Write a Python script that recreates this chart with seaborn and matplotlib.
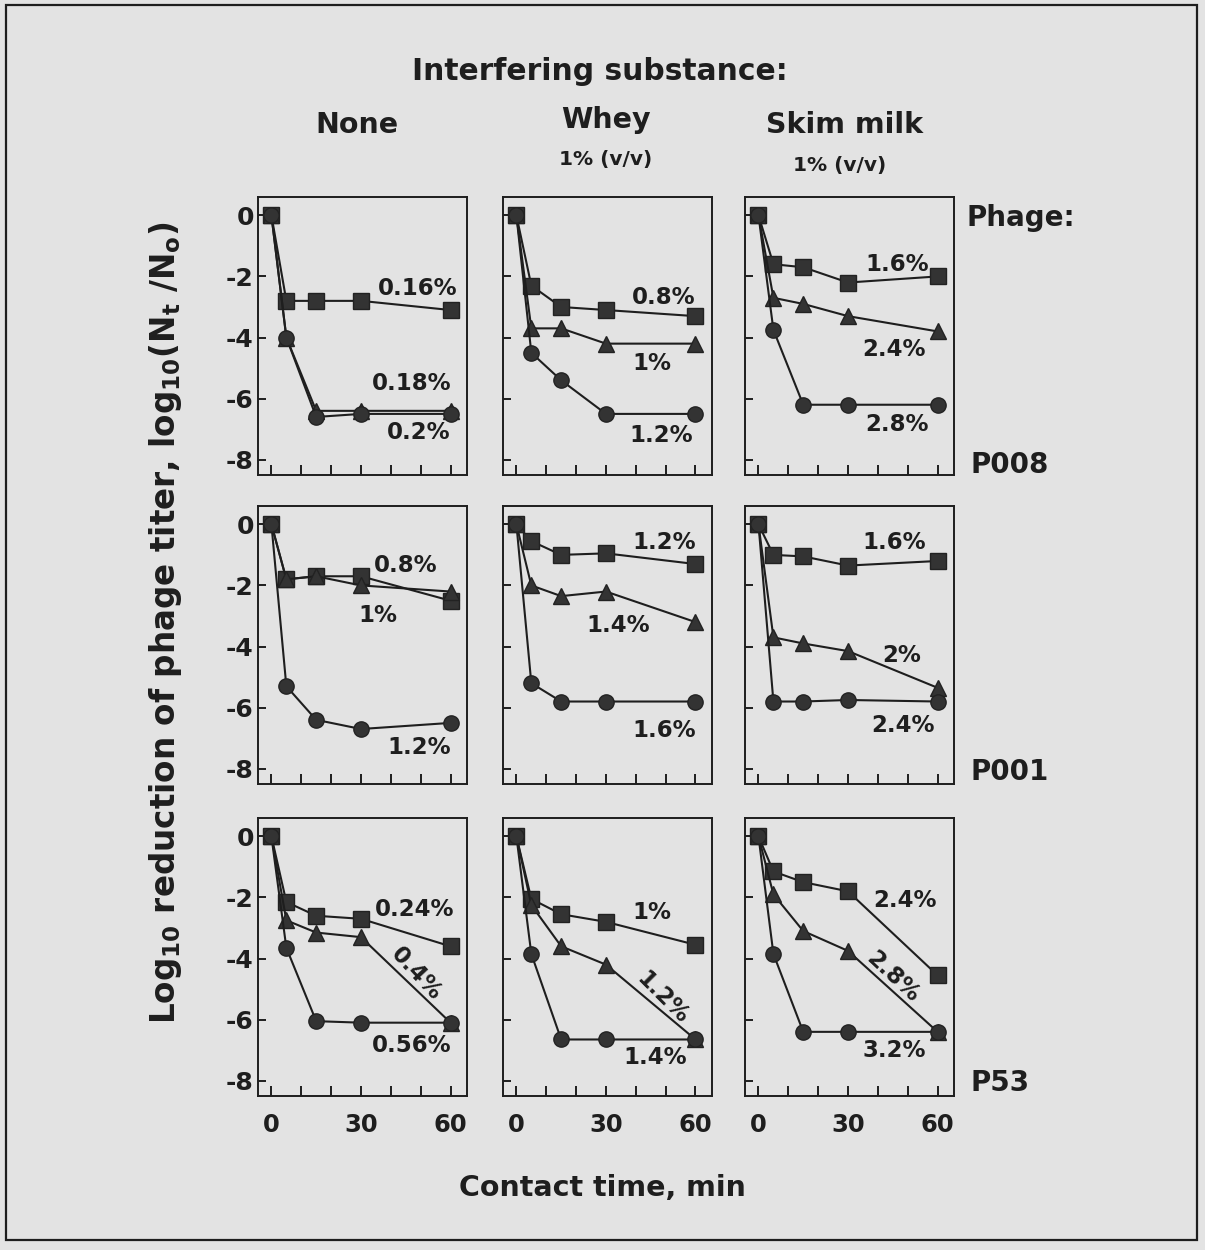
import matplotlib
matplotlib.use("Agg")
import matplotlib.pyplot as plt
import seaborn as sns
from matplotlib.patches import Rectangle

# contact time points (min)
times = [0, 5, 15, 30, 60]

substances = ["None", "Whey", "Skim milk"]
phages = ["P008", "P001", "P53"]

# log10 reduction values, per phage -> per substance -> [square, triangle, circle]
p008_none = [[0, -2.8, -2.8, -2.8, -3.1], [0, -4.0, -6.4, -6.4, -6.4], [0, -4.0, -6.6, -6.5, -6.5]]
p008_whey = [[0, -2.3, -3.0, -3.1, -3.3], [0, -3.7, -3.7, -4.2, -4.2], [0, -4.5, -5.4, -6.5, -6.5]]
p008_skim = [[0, -1.6, -1.7, -2.2, -2.0], [0, -2.7, -2.9, -3.3, -3.8], [0, -3.75, -6.2, -6.2, -6.2]]

p001_none = [[0, -1.8, -1.7, -1.7, -2.5], [0, -1.8, -1.7, -2.0, -2.2], [0, -5.3, -6.4, -6.7, -6.5]]
p001_whey = [[0, -0.55, -1.0, -0.95, -1.3], [0, -2.0, -2.35, -2.2, -3.2], [0, -5.2, -5.8, -5.8, -5.8]]
p001_skim = [[0, -1.0, -1.05, -1.35, -1.2], [0, -3.7, -3.9, -4.15, -5.35], [0, -5.8, -5.8, -5.75, -5.8]]

p53_none = [[0, -2.15, -2.6, -2.7, -3.6], [0, -2.75, -3.15, -3.3, -6.1], [0, -3.65, -6.05, -6.1, -6.1]]
p53_whey = [[0, -2.05, -2.55, -2.8, -3.55], [0, -2.25, -3.6, -4.2, -6.65], [0, -3.85, -6.65, -6.65, -6.65]]
p53_skim = [[0, -1.15, -1.5, -1.8, -4.55], [0, -1.9, -3.1, -3.75, -6.4], [0, -3.85, -6.4, -6.4, -6.4]]

# disinfectant concentration labels for each series
conc_labels = [
    [["0.16%", "0.18%", "0.2%"], ["0.8%", "1%", "1.2%"], ["1.6%", "2.4%", "2.8%"]],
    [["0.8%", "1%", "1.2%"], ["1.2%", "1.4%", "1.6%"], ["1.6%", "2%", "2.4%"]],
    [["0.24%", "0.4%", "0.56%"], ["1%", "1.2%", "1.4%"], ["2.4%", "2.8%", "3.2%"]],
]

data = [
    [p008_none, p008_whey, p008_skim],
    [p001_none, p001_whey, p001_skim],
    [p53_none, p53_whey, p53_skim],
]

# label placement (x, y, rotation) in data coordinates
label_pos = [
    [[(49, -2.4, 0), (47, -5.5, 0), (49.5, -7.1, 0)],
     [(49.5, -2.7, 0), (45.5, -4.85, 0), (48.5, -7.2, 0)],
     [(46.5, -1.6, 0), (45.5, -4.4, 0), (46.5, -6.85, 0)]],
    [[(45, -1.35, 0), (35.5, -3.0, 0), (49.5, -7.3, 0)],
     [(49.5, -0.6, 0), (34, -3.3, 0), (49.5, -6.75, 0)],
     [(45.5, -0.6, 0), (48, -4.3, 0), (48.5, -6.6, 0)]],
    [[(48, -2.4, 0), (48.5, -4.5, -47), (47, -6.85, 0)],
     [(45.5, -2.5, 0), (49, -5.3, -45), (46.5, -7.25, 0)],
     [(49, -2.1, 0), (45, -4.6, -43), (45.5, -7.0, 0)]],
]

markers = ["s", "^", "o"]
bg = "#e3e3e3"
ink = "#1e1e1e"

sns.set_theme(style="ticks")
plt.rcParams["font.family"] = ["DejaVu Sans"]
plt.rcParams["font.weight"] = "bold"
plt.rcParams["mathtext.fontset"] = "custom"
plt.rcParams["mathtext.rm"] = "DejaVu Sans:bold"
plt.rcParams["mathtext.bf"] = "DejaVu Sans:bold"
plt.rcParams["mathtext.it"] = "DejaVu Sans:bold"

fig = plt.figure(figsize=(12.05, 12.5), dpi=100, facecolor=bg)

col_left = [0.2141, 0.4174, 0.6183]
row_bottom = [0.620, 0.3728, 0.1232]
width, height = 0.1734, 0.2224

for r in range(3):
    for c in range(3):
        ax = fig.add_axes([col_left[c], row_bottom[r], width, height])
        ax.set_facecolor(bg)
        for k in range(3):
            sns.lineplot(x=times, y=data[r][c][k], ax=ax, color=ink, linewidth=1.5,
                         marker=markers[k], markersize=12 if k == 1 else 11,
                         markerfacecolor="#333333", markeredgecolor="#222222",
                         markeredgewidth=1.0, legend=False)
            lx, ly, rot = label_pos[r][c][k]
            ax.text(lx, ly, conc_labels[r][c][k], ha="center", va="center",
                    rotation=rot, fontsize=16.5, fontweight="bold", color=ink)
        ax.set_xlim(-4.5, 65.5)
        ax.set_ylim(-8.5, 0.6)
        ax.set_xticks(range(0, 61, 10))
        ax.set_yticks([0, -2, -4, -6, -8])
        if r == 2:
            ax.set_xticklabels(["0", "", "", "30", "", "", "60"])
        else:
            ax.set_xticklabels([])
        if c == 0:
            ax.set_yticklabels(["0", "-2", "-4", "-6", "-8"])
        else:
            ax.set_yticklabels([])
        ax.tick_params(axis="x", direction="in", length=7, width=1.4, pad=12,
                       labelsize=17.5, colors=ink)
        ax.tick_params(axis="y", direction="in", length=6, width=1.4, pad=3,
                       labelsize=18, colors=ink)
        for s in ax.spines.values():
            s.set_linewidth(1.4)
            s.set_color(ink)
            s.set_visible(True)
        ax.set_xlabel("")
        ax.set_ylabel("")

# header texts
fig.text(0.498, 0.9424, "Interfering substance:", ha="center", va="center", fontsize=21.4, fontweight="bold", color=ink)
fig.text(0.296, 0.900, "None", ha="center", va="center", fontsize=20.5, fontweight="bold", color=ink)
fig.text(0.503, 0.904, "Whey", ha="center", va="center", fontsize=20.5, fontweight="bold", color=ink)
fig.text(0.503, 0.872, "1% (v/v)", ha="center", va="center", fontsize=14.5, fontweight="bold", color=ink)
fig.text(0.701, 0.900, "Skim milk", ha="center", va="center", fontsize=20.5, fontweight="bold", color=ink)
fig.text(0.697, 0.868, "1% (v/v)", ha="center", va="center", fontsize=14.5, fontweight="bold", color=ink)

fig.text(0.8017, 0.8256, "Phage:", ha="left", va="center", fontsize=20, fontweight="bold", color=ink)
for name, yy in zip(phages, [0.628, 0.3824, 0.1336]):
    fig.text(0.805, yy, name, ha="left", va="center", fontsize=20, fontweight="bold", color=ink)

fig.text(0.137, 0.502,
         r"Log$_{10}$ reduction of phage titer, log$_{10}$(N$_{t}$ /N$_{o}$)",
         ha="center", va="center", rotation=90, fontsize=23.5, fontweight="bold", color=ink)
fig.text(0.5, 0.0496, "Contact time, min", ha="center", va="center", fontsize=20.5, fontweight="bold", color=ink)

fig.patches.append(Rectangle((0.005, 0.008), 0.988, 0.988, transform=fig.transFigure,
                             fill=False, edgecolor=ink, linewidth=1.6))

fig.savefig("out.png", dpi=100, facecolor=bg)
